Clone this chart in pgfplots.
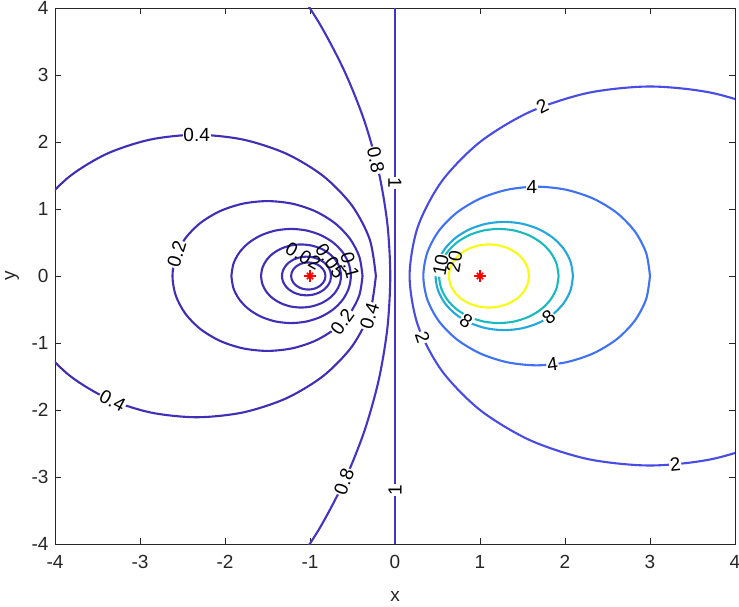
\documentclass[border=0pt]{standalone}
\usepackage{fontspec}
\setmainfont{Liberation Sans}
\usepackage{pgfplots}
\pgfplotsset{compat=1.18}

\definecolor{axgray}{RGB}{38,38,38}
\definecolor{cA}{RGB}{64,46,182}
\definecolor{cB}{RGB}{67,52,198}
\definecolor{cC}{RGB}{72,76,228}
\definecolor{cD}{RGB}{64,114,246}
\definecolor{cE}{RGB}{34,168,220}
\definecolor{cF}{RGB}{24,186,190}
\definecolor{cG}{RGB}{248,250,20}

\newcommand{\lbl}{\fontsize{19}{22}\selectfont}
\tikzset{clabel/.style={fill=white, inner sep=0.8pt, font=\lbl, text=black}}

\begin{document}
\begin{tikzpicture}
\begin{axis}[
  scale only axis,
  width=680pt, height=536pt,
  xmin=-4, xmax=4, ymin=-4, ymax=4,
  xtick={-4,...,4}, ytick={-4,...,4},
  tick align=inside,
  major tick length=6pt,
  axis line style={color=axgray, line width=0.9pt},
  tick style={color=axgray, line width=0.9pt},
  ticklabel style={font=\lbl, color=axgray},
  xticklabel style={yshift=-8pt},
  yticklabel style={xshift=-3pt},
  /pgf/number format/assume math mode=true,
  xlabel={x}, ylabel={y},
  label style={font=\lbl, color=axgray},
  xlabel style={at={(axis description cs:0.5,-0.097)}, anchor=center},
  ylabel style={at={(axis description cs:-0.063,0.5)}, anchor=center},
  every axis plot/.append style={line width=2.1pt},
]

% level 0.01
\addplot[color=cA, smooth] coordinates {
(-0.8182,0) (-0.8251,0.0523) (-0.8453,0.1010) (-0.8774,0.1428) (-0.9192,0.1749) (-0.9679,0.1951)
(-1.0202,0.2020) (-1.0725,0.1951) (-1.1212,0.1749) (-1.1630,0.1428) (-1.1951,0.1010) (-1.2153,0.0523)
(-1.2222,0) (-1.2153,-0.0523) (-1.1951,-0.1010) (-1.1630,-0.1428) (-1.1212,-0.1749) (-1.0725,-0.1951)
(-1.0202,-0.2020) (-0.9679,-0.1951) (-0.9192,-0.1749) (-0.8774,-0.1428) (-0.8453,-0.1010) (-0.8251,-0.0523)
(-0.8182,0)};
% level 0.02
\addplot[color=cA, smooth] coordinates {
(-0.7522,0) (-0.7620,0.0747) (-0.7909,0.1443) (-0.8367,0.2041) (-0.8965,0.2499) (-0.9661,0.2788)
(-1.0408,0.2886) (-1.1155,0.2788) (-1.1851,0.2499) (-1.2449,0.2041) (-1.2907,0.1443) (-1.3196,0.0747)
(-1.3294,0) (-1.3196,-0.0747) (-1.2907,-0.1443) (-1.2449,-0.2041) (-1.1851,-0.2499) (-1.1155,-0.2788)
(-1.0408,-0.2886) (-0.9661,-0.2788) (-0.8965,-0.2499) (-0.8367,-0.2041) (-0.7909,-0.1443) (-0.7620,-0.0747)
(-0.7522,0)};
% level 0.05
\addplot[color=cA, smooth] coordinates {
(-1.5761,0) (-1.5601,0.1218) (-1.5130,0.2354) (-1.4382,0.3329) (-1.3407,0.4077) (-1.2271,0.4548)
(-1.1053,0.4708) (-0.9835,0.4548) (-0.8699,0.4077) (-0.7724,0.3329) (-0.6976,0.2354) (-0.6505,0.1218)
(-0.6345,0) (-0.6505,-0.1218) (-0.6976,-0.2354) (-0.7724,-0.3329) (-0.8699,-0.4077) (-0.9835,-0.4548)
(-1.1053,-0.4708) (-1.2271,-0.4548) (-1.3407,-0.4077) (-1.4382,-0.3329) (-1.5130,-0.2354) (-1.5601,-0.1218)
(-1.5761,0)};
% level 0.1
\addplot[color=cA, smooth] coordinates {
(-1.9249,0) (-1.9009,0.1819) (-1.8308,0.3514) (-1.7191,0.4969) (-1.5736,0.6086) (-1.4041,0.6787)
(-1.2222,0.7027) (-1.0403,0.6787) (-0.8708,0.6086) (-0.7253,0.4969) (-0.6136,0.3514) (-0.5435,0.1819)
(-0.5195,0) (-0.5435,-0.1819) (-0.6136,-0.3514) (-0.7253,-0.4969) (-0.8708,-0.6086) (-1.0403,-0.6787)
(-1.2222,-0.7027) (-1.4041,-0.6787) (-1.5736,-0.6086) (-1.7191,-0.4969) (-1.8308,-0.3514) (-1.9009,-0.1819)
(-1.9249,0)};
% level 0.2
\addplot[color=cA, smooth] coordinates {
(-0.3820,0) (-0.4201,0.2894) (-0.5318,0.5590) (-0.7094,0.7906) (-0.9410,0.9682) (-1.2106,1.0799)
(-1.5,1.1180) (-1.7894,1.0799) (-2.0590,0.9682) (-2.2906,0.7906) (-2.4682,0.5590) (-2.5799,0.2894)
(-2.6180,0) (-2.5799,-0.2894) (-2.4682,-0.5590) (-2.2906,-0.7906) (-2.0590,-0.9682) (-1.7894,-1.0799)
(-1.5,-1.1180) (-1.2106,-1.0799) (-0.9410,-0.9682) (-0.7094,-0.7906) (-0.5318,-0.5590) (-0.4201,-0.2894)
(-0.3820,0)};
% level 0.4
\addplot[color=cA, smooth] coordinates {
(-0.2251,0) (-0.2970,0.5456) (-0.5076,1.0541) (-0.8426,1.4907) (-1.2792,1.8257) (-1.7877,2.0363)
(-2.3333,2.1082) (-2.8789,2.0363) (-3.3874,1.8257) (-3.8240,1.4907) (-4.1590,1.0541) (-4.3696,0.5456)
(-4.4415,0) (-4.3696,-0.5456) (-4.1590,-1.0541) (-3.8240,-1.4907) (-3.3874,-1.8257) (-2.8789,-2.0363)
(-2.3333,-2.1082) (-1.7877,-2.0363) (-1.2792,-1.8257) (-0.8426,-1.4907) (-0.5076,-1.0541) (-0.2970,-0.5456)
(-0.2251,0)};
% level 0.8
\addplot[color=cB, smooth] coordinates {
(-1.2539,-4.4721) (-0.8937,-3.7800) (-0.5951,-3.0591) (-0.3604,-2.3150) (-0.1917,-1.5532) (-0.0898,-0.7796)
(-0.0557,0) (-0.0898,0.7796) (-0.1917,1.5532) (-0.3604,2.3150) (-0.5951,3.0591) (-0.8937,3.7800)
(-1.2539,4.4721)};
% level 1
\addplot[color=cB, line width=2.1pt] coordinates {(0,-4) (0,0) (0,4)};
% level 2
\addplot[color=cC, smooth] coordinates {
(5.0,2.0) (4.4142,2.4495) (3.7321,2.7320) (3,2.8284) (2.2679,2.7320) (1.5858,2.4495)
(1.0,2.0) (0.5505,1.4142) (0.2680,0.7321) (0.1716,0) (0.2680,-0.7321) (0.5505,-1.4142)
(1.0,-2.0) (1.5858,-2.4495) (2.2679,-2.7320) (3,-2.8284) (3.7321,-2.7320) (4.4142,-2.4495)
(5.0,-2.0)};
% level 4
\addplot[color=cD, smooth] coordinates {
(3.0,0) (2.9546,0.3451) (2.8214,0.6667) (2.6095,0.9428) (2.3333,1.1547) (2.0117,1.2879)
(1.6667,1.3333) (1.3216,1.2879) (1.0,1.1547) (0.7239,0.9428) (0.5120,0.6667) (0.3788,0.3451)
(0.3333,0) (0.3788,-0.3451) (0.5120,-0.6667) (0.7239,-0.9428) (1.0,-1.1547) (1.3216,-1.2879)
(1.6667,-1.3333) (2.0117,-1.2879) (2.3333,-1.1547) (2.6095,-0.9428) (2.8214,-0.6667) (2.9546,-0.3451)
(3.0,0)};
% level 8
\addplot[color=cE, smooth] coordinates {
(2.0938,0) (2.0663,0.2091) (1.9855,0.4041) (1.8571,0.5714) (1.6898,0.6998) (1.4948,0.7806)
(1.2857,0.8081) (1.0766,0.7806) (0.8816,0.6998) (0.7143,0.5714) (0.5859,0.4041) (0.5051,0.2091)
(0.4776,0) (0.5051,-0.2091) (0.5859,-0.4041) (0.7143,-0.5714) (0.8816,-0.6998) (1.0766,-0.7806)
(1.2857,-0.8081) (1.4948,-0.7806) (1.6898,-0.6998) (1.8571,-0.5714) (1.9855,-0.4041) (2.0663,-0.2091)
(2.0938,0)};
% level 10
\addplot[color=cF, smooth] coordinates {
(1.9249,0) (1.9009,0.1819) (1.8308,0.3514) (1.7191,0.4969) (1.5736,0.6086) (1.4041,0.6787)
(1.2222,0.7027) (1.0403,0.6787) (0.8708,0.6086) (0.7253,0.4969) (0.6136,0.3514) (0.5435,0.1819)
(0.5195,0) (0.5435,-0.1819) (0.6136,-0.3514) (0.7253,-0.4969) (0.8708,-0.6086) (1.0403,-0.6787)
(1.2222,-0.7027) (1.4041,-0.6787) (1.5736,-0.6086) (1.7191,-0.4969) (1.8308,-0.3514) (1.9009,-0.1819)
(1.9249,0)};
% level 20
\addplot[color=cG, smooth] coordinates {
(1.5761,0) (1.5601,0.1218) (1.5130,0.2354) (1.4382,0.3329) (1.3407,0.4077) (1.2271,0.4548)
(1.1053,0.4708) (0.9835,0.4548) (0.8699,0.4077) (0.7724,0.3329) (0.6976,0.2354) (0.6505,0.1218)
(0.6345,0) (0.6505,-0.1218) (0.6976,-0.2354) (0.7724,-0.3329) (0.8699,-0.4077) (0.9835,-0.4548)
(1.1053,-0.4708) (1.2271,-0.4548) (1.3407,-0.4077) (1.4382,-0.3329) (1.5130,-0.2354) (1.5601,-0.1218)
(1.5761,0)};

% charges
\addplot[only marks, red, mark=+, mark size=6pt, line width=1.5pt] coordinates {(-1,0) (1,0)};
\addplot[only marks, red, mark=x, mark size=4.5pt, line width=1.5pt] coordinates {(-1,0) (1,0)};

% contour labels
\node[clabel] at (axis cs:-2.333,2.108) {0.4};
\node[clabel, rotate=-28] at (axis cs:-3.323,-1.861) {0.4};
\node[clabel, rotate=73] at (axis cs:-0.30,-0.60) {0.4};
\node[clabel, rotate=73] at (axis cs:-2.569,0.327) {0.2};
\node[clabel, rotate=54] at (axis cs:-0.62,-0.68) {0.2};
\node[clabel, rotate=-75, fill=none] at (axis cs:-0.53,0.16) {0.1};
\node[clabel, rotate=-55, fill=none] at (axis cs:-0.76,0.22) {0.05};
\node[clabel, rotate=-30, fill=none] at (axis cs:-1.08,0.30) {0.02};
\node[clabel, rotate=-79] at (axis cs:-0.225,1.73) {0.8};
\node[clabel, rotate=70] at (axis cs:-0.599,-3.07) {0.8};
\node[clabel, rotate=-90] at (axis cs:0,1.39) {1};
\node[clabel, rotate=90] at (axis cs:0,-3.19) {1};
\node[clabel, rotate=27] at (axis cs:1.733,2.529) {2};
\node[clabel, rotate=6] at (axis cs:3.296,-2.813) {2};
\node[clabel, rotate=-71] at (axis cs:0.324,-0.916) {2};
\node[clabel] at (axis cs:1.611,1.332) {4};
\node[clabel, rotate=8] at (axis cs:1.852,-1.320) {4};
\node[clabel, rotate=-34] at (axis cs:0.837,-0.672) {8};
\node[clabel, rotate=40] at (axis cs:1.808,-0.617) {8};
\node[clabel, rotate=80] at (axis cs:0.538,0.158) {10};
\node[clabel, rotate=80, fill=none] at (axis cs:0.70,0.214) {20};
\end{axis}
\pgfresetboundingbox
\path (-55pt,-62pt) rectangle (684pt,544pt);
\end{tikzpicture}
\end{document}
